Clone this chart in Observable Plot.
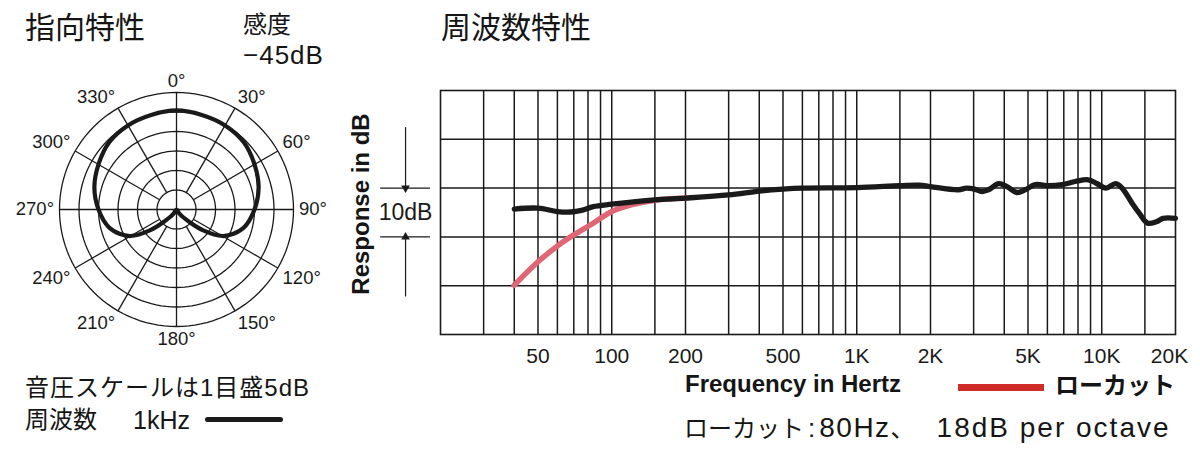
<!DOCTYPE html>
<html><head><meta charset="utf-8">
<script src="https://cdn.jsdelivr.net/npm/d3@7"></script>
<script src="https://cdn.jsdelivr.net/npm/@observablehq/plot@0.6"></script>
<style>
body{margin:0;background:#fff;}
#root{position:relative;width:1200px;height:450px;overflow:hidden;font-family:"Liberation Sans","Noto Sans CJK JP",sans-serif;color:#151515;}
.t{position:absolute;white-space:nowrap;line-height:1;}
.jp{font-family:"Noto Sans CJK JP",sans-serif;}
.abs{position:absolute;}
svg{background:transparent !important;overflow:visible;}
</style></head><body><div id="root"></div>
<script>
// ---- polar pattern (1 kHz), dB relative to outer ring ----
const polarAngles = [0,15,30,45,60,75,90,105,113,120,128,134,145,180,215,226,232,240,247,255,270,285,300,315,330,345];
const polarDb = [-4.6,-4.9,-5.1,-5.6,-6.9,-8.2,-10.0,-12.1,-14.1,-16.4,-21.3,-25.4,-28.7,-30,-28.7,-25.4,-21.3,-16.4,-14.1,-12.1,-10.0,-8.2,-6.9,-5.6,-5.1,-4.9];
const ringDb = [-25,-20,-15,-10,-5,0];
const spokeAngles = [30,60,120,150,210,240,300,330];
const angleLabels = [0,30,60,90,120,150,180,210,240,270,300,330];

// ---- frequency response ----
const freqHz = [40,50,60,68,76,84,100,150,200,300,400,500,600,1000,1500,1800,2000,2600,2800,3000,3250,3450,3800,4100,4500,4870,5350,6050,6900,7800,8800,9500,10400,11400,12100,13300,14200,15400,16700,17800,20000];
const responseDb = [-4.3,-4.1,-4.8,-4.9,-4.5,-3.8,-3.3,-2.4,-2.05,-1.4,-0.6,-0.2,0,0.1,0.5,0.6,0.3,-0.35,0,-0.15,-0.7,-0.35,0.9,0.3,-0.9,-0.35,0.7,0.5,0.7,1.35,1.7,1.0,0,0.9,0,-3.1,-5.1,-7.2,-6.9,-6.2,-6.2];
const lowCutHz = [40,50,61,71,84,100,121,150,200];
const lowCutDb = [-19.9,-15.1,-11.6,-9.4,-7.2,-4.8,-3.4,-2.5,-2.05];
const gridHz = [30,40,50,60,70,80,90,100,150,200,300,400,500,600,700,800,900,1000,1500,2000,3000,4000,5000,6000,7000,8000,9000,10000,15000];
const tickHz = [50,100,200,500,1000,2000,5000,10000,20000];
const tickLabels = ["50","100","200","500","1K","2K","5K","10K","20K"];
const gridDb = [-20,-10,0,10];
const scaleMarkDb = [0,-10];
const scaleMarkHz = [11.4,18.2,14.4];   // annotation bracket left of the frame
const scaleArrowFromDb = [12.4,-22.3];

const INK = "#1a1a1a";
const FONT = '"Liberation Sans","Noto Sans CJK JP",sans-serif';
const root = document.getElementById("root");

// ================= polar =================
const rad = a => a * Math.PI / 180;
const rho = db => db + 30;
const px = (a, db) => rho(db) * Math.sin(rad(a));
const py = (a, db) => rho(db) * Math.cos(rad(a));
const polar = polarAngles.map((a, i) => ({a, db: polarDb[i]}));
const ringPts = ringDb.flatMap(db => d3.range(0, 361, 3).map(a => ({a, db})));
const spokes = spokeAngles.map(a => ({a}));
const labels = angleLabels.map(a => ({a, text: a + "°"}));
const LR = 1.4; // label radius beyond outer ring (dB units)
function labelMark(filter, textAnchor, lineAnchor) {
  return Plot.text(labels.filter(filter), {
    x: d => px(d.a, LR), y: d => py(d.a, LR), text: "text",
    textAnchor, lineAnchor, fontSize: 18.5, fill: INK
  });
}
const polarPlot = Plot.plot({
  width: 350, height: 350, margin: 0,
  x: {domain: [-44.87, 44.87], axis: null},
  y: {domain: [-44.87, 44.87], axis: null},
  style: {fontFamily: FONT, background: "transparent", overflow: "visible"},
  marks: [
    Plot.line(ringPts, {x: d => px(d.a, d.db), y: d => py(d.a, d.db), z: "db", stroke: INK, strokeWidth: 1.3}),
    Plot.link(spokes, {x1: d => px(d.a, -25), y1: d => py(d.a, -25), x2: d => px(d.a, 0), y2: d => py(d.a, 0), stroke: INK, strokeWidth: 1.3}),
    Plot.link([0, 90], {x1: d => px(d, 0), y1: d => py(d, 0), x2: d => px(d + 180, 0), y2: d => py(d + 180, 0), stroke: INK, strokeWidth: 1.3}),
    Plot.line(polar, {x: d => px(d.a, d.db), y: d => py(d.a, d.db), curve: "catmull-rom-closed", stroke: INK, strokeWidth: 4.2}),
    labelMark(d => d.a === 0, "middle", "bottom"),
    labelMark(d => d.a === 180, "middle", "top"),
    labelMark(d => d.a === 90, "start", "middle"),
    labelMark(d => d.a === 270, "end", "middle"),
    labelMark(d => d.a === 30 || d.a === 60, "start", "bottom"),
    labelMark(d => d.a === 120 || d.a === 150, "start", "top"),
    labelMark(d => d.a === 210 || d.a === 240, "end", "top"),
    labelMark(d => d.a === 300 || d.a === 330, "end", "bottom")
  ]
});
polarPlot.style.position = "absolute";
polarPlot.style.left = "1px";
polarPlot.style.top = "34px";
root.appendChild(polarPlot);

// ================= frequency response =================
const resp = freqHz.map((f, i) => ({f, db: responseDb[i]}));
const lowcut = lowCutHz.map((f, i) => ({f, db: lowCutDb[i]}));
const ticks = tickHz.map((f, i) => ({f, label: tickLabels[i]}));
const freqPlot = Plot.plot({
  width: 860, height: 320,
  marginLeft: 100, marginRight: 25, marginTop: 30, marginBottom: 46,
  x: {type: "log", domain: [20, 20000], axis: null},
  y: {domain: [-30, 20], axis: null},
  style: {fontFamily: FONT, background: "transparent", overflow: "visible", color: INK},
  marks: [
    Plot.ruleX(gridHz, {stroke: INK, strokeWidth: 1.5}),
    Plot.ruleY(gridDb, {stroke: INK, strokeWidth: 1.5}),
    Plot.frame({stroke: INK, strokeWidth: 1.6}),
    Plot.text(ticks.filter(d => d.f < 20000), {x: "f", text: "label", frameAnchor: "bottom", lineAnchor: "top", dy: 14, fontSize: 21, fill: INK}),
    Plot.text(ticks.filter(d => d.f >= 20000), {x: "f", text: "label", frameAnchor: "bottom", lineAnchor: "top", dy: 14, dx: -6, fontSize: 21, fill: INK}),
    // scale bracket "10dB"
    Plot.ruleY(scaleMarkDb, {x1: scaleMarkHz[0], x2: scaleMarkHz[1], stroke: INK, strokeWidth: 1.3}),
    Plot.ruleX(scaleArrowFromDb, {x: scaleMarkHz[2], y1: d => d, y2: d => d > 0 ? scaleMarkDb[0] : scaleMarkDb[1], stroke: INK, strokeWidth: 1.2}),
    Plot.dot(scaleMarkDb, {x: scaleMarkHz[2], y: d => d, symbol: "triangle", r: 3.2, fill: INK, stroke: "none",
      rotate: d => d === 0 ? 180 : 0}),
    Plot.text(["10dB"], {x: scaleMarkHz[2], y: (scaleMarkDb[0] + scaleMarkDb[1]) / 2, fontSize: 23, fill: INK, lineAnchor: "middle"}),
    Plot.line(lowcut, {x: "f", y: "db", curve: "catmull-rom", stroke: "#e06675", strokeWidth: 5.5}),
    Plot.line(resp, {x: "f", y: "db", curve: "catmull-rom", stroke: INK, strokeWidth: 5.3, strokeLinecap: "round"})
  ]
});
freqPlot.style.position = "absolute";
freqPlot.style.left = "340px";
freqPlot.style.top = "60px";
root.appendChild(freqPlot);

// ================= texts =================
function txt(s, css, cls) {
  const d = document.createElement("div");
  d.className = "t " + (cls || "");
  d.textContent = s;
  Object.assign(d.style, css);
  root.appendChild(d);
  return d;
}
function span(parent, s, css) {
  const e = document.createElement("span");
  e.textContent = s;
  Object.assign(e.style, css);
  parent.appendChild(e);
}
txt("指向特性", {left: "25px", top: "10px", fontSize: "30px"}, "jp");
txt("感度", {left: "243px", top: "11px", fontSize: "24px"}, "jp");
txt("−45dB", {left: "243px", top: "42px", fontSize: "26px", letterSpacing: "1px"});
txt("周波数特性", {left: "441px", top: "10px", fontSize: "30px"}, "jp");
txt("音圧スケールは1目盛5dB", {left: "25px", top: "376px", fontSize: "24px", letterSpacing: "1px"});
txt("周波数", {left: "25px", top: "408px", fontSize: "24px"});
txt("1kHz", {left: "133px", top: "408px", fontSize: "25px"});
const sw1 = document.createElement("div");
sw1.className = "abs";
Object.assign(sw1.style, {left: "205px", top: "417px", width: "78px", height: "5px", background: INK, borderRadius: "3px"});
root.appendChild(sw1);
txt("Response in dB", {left: "361px", top: "204px", fontSize: "24px", fontWeight: "bold", transform: "translate(-50%,-50%) rotate(-90deg)"});
txt("Frequency in Hertz", {left: "685px", top: "372px", fontSize: "24px", fontWeight: "bold"});
const sw2 = document.createElement("div");
sw2.className = "abs";
Object.assign(sw2.style, {left: "958px", top: "384px", width: "86px", height: "7px", background: "#cf2b27"});
root.appendChild(sw2);
txt("ローカット", {left: "1055px", top: "374px", fontSize: "24px", fontWeight: "bold"});
const cap = txt("", {left: "684px", top: "414px", fontSize: "28px"});
span(cap, "ローカット", {fontSize: "24px"});
span(cap, ":", {fontSize: "26px", margin: "0 4px"});
span(cap, "80Hz", {letterSpacing: "1.5px"});
span(cap, "、", {fontSize: "24px"});
span(cap, "18dB per octave", {letterSpacing: "2px", marginLeft: "22px"});
</script></body></html>
